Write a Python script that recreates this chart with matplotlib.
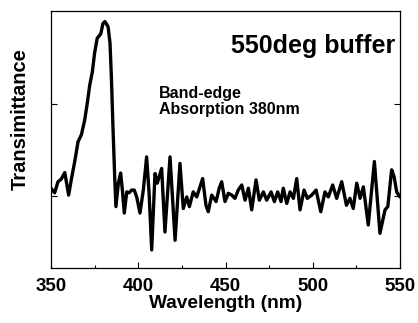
import matplotlib
matplotlib.use("Agg")
import matplotlib.pyplot as plt
from matplotlib.ticker import MultipleLocator

# --- DADOS ---
wavelength = [
    350.0, 352.1, 354.0, 355.9, 357.9, 360.1, 361.6, 363.6, 365.5, 367.4,
    369.3, 370.8, 372.2, 373.7, 375.0, 376.5, 378.5, 379.8, 380.9, 382.7,
    383.8, 384.6, 385.5, 386.5, 387.2, 388.6, 389.9, 390.9, 392.0, 393.4,
    394.7, 396.2, 397.7, 399.1, 401.0, 402.9, 404.8, 406.2, 407.7, 409.6,
    410.9, 413.4, 415.3, 418.2, 421.1, 423.9, 425.8, 427.8, 429.3, 431.5,
    433.5, 436.9, 438.8, 440.1, 442.1, 444.6, 446.4, 447.8, 449.7, 451.6,
    453.6, 455.4, 457.3, 459.3, 461.2, 463.1, 465.0, 467.5, 469.4, 471.7,
    473.6, 476.1, 478.0, 479.9, 481.8, 483.1, 485.1, 487.0, 488.9, 490.8,
    492.7, 495.0, 496.9, 499.4, 501.9, 504.6, 507.0, 508.9, 511.4, 513.7,
    516.6, 519.3, 521.3, 523.2, 525.2, 527.1, 529.0, 531.8, 535.3, 538.5,
    541.4, 543.0, 545.2, 546.6, 548.1, 550.0,
]
transmittance = [
    21.7, 20.7, 23.1, 23.7, 25.1, 20.2, 23.5, 27.5, 31.8, 33.3,
    36.5, 40.2, 44.1, 47.0, 51.1, 54.3, 55.2, 57.5, 57.9, 56.8,
    53.3, 45.9, 35.1, 24.2, 17.7, 22.8, 25.0, 21.3, 16.3, 20.9,
    20.7, 21.3, 21.3, 19.8, 16.3, 21.3, 28.5, 20.7, 8.3, 24.9,
    22.8, 26.0, 12.2, 28.5, 10.4, 27.1, 17.3, 19.8, 17.7, 20.9,
    19.8, 23.8, 18.0, 16.6, 20.2, 18.8, 21.7, 23.1, 18.8, 20.6,
    20.2, 19.5, 21.3, 22.4, 19.1, 21.7, 17.0, 23.5, 19.1, 20.9,
    19.1, 20.9, 18.8, 20.9, 18.8, 21.7, 18.4, 20.9, 19.5, 23.8,
    17.0, 21.3, 19.5, 20.2, 21.3, 16.6, 20.9, 19.8, 22.4, 19.5,
    23.1, 18.0, 19.5, 17.3, 22.8, 19.5, 22.0, 13.7, 27.5, 11.9,
    17.0, 17.7, 25.7, 24.2, 20.9, 19.8,
]
x_ticks = [350, 400, 450, 500, 550]
y_ticks = [20, 40]

plt.rcParams["font.family"] = ["Liberation Sans", "DejaVu Sans"]
plt.rcParams["font.weight"] = "bold"

fig = plt.figure(figsize=(4.18, 3.23), dpi=100)
ax = fig.add_axes([0.122, 0.170, 0.835, 0.796])

ax.plot(wavelength, transmittance, color="black", linewidth=2.4,
        solid_joinstyle="round", solid_capstyle="round")

ax.set_xlim(350, 550)
ax.set_ylim(4.35, 60.2)
ax.set_xticks(x_ticks)
ax.xaxis.set_minor_locator(MultipleLocator(25))
ax.set_yticks(y_ticks)
ax.set_yticklabels([])

ax.tick_params(axis="x", which="major", direction="in", length=4, width=0.8,
               labelsize=13.5, pad=7, top=False)
ax.tick_params(axis="x", which="minor", direction="in", length=2, width=0.8,
               top=False)
ax.tick_params(axis="y", which="major", direction="in", length=4, width=0.8,
               left=True, right=True)
for lbl in ax.get_xticklabels():
    lbl.set_fontweight("bold")

for s in ax.spines.values():
    s.set_linewidth(0.9)

ax.set_xlabel("Wavelength (nm)", fontsize=13.8, fontweight="bold", labelpad=0)
ax.set_ylabel("Transimittance", fontsize=14.5, fontweight="bold")
ax.yaxis.set_label_coords(-0.062, 0.58)

ax.text(0.985, 0.863, "550deg buffer", transform=ax.transAxes, ha="right",
        va="center", fontsize=18, fontweight="bold")
ax.text(0.31, 0.647, "Band-edge\nAbsorption 380nm", transform=ax.transAxes,
        ha="left", va="center", fontsize=11.5, fontweight="bold",
        linespacing=1.1)

fig.savefig("out.png", dpi=100)
